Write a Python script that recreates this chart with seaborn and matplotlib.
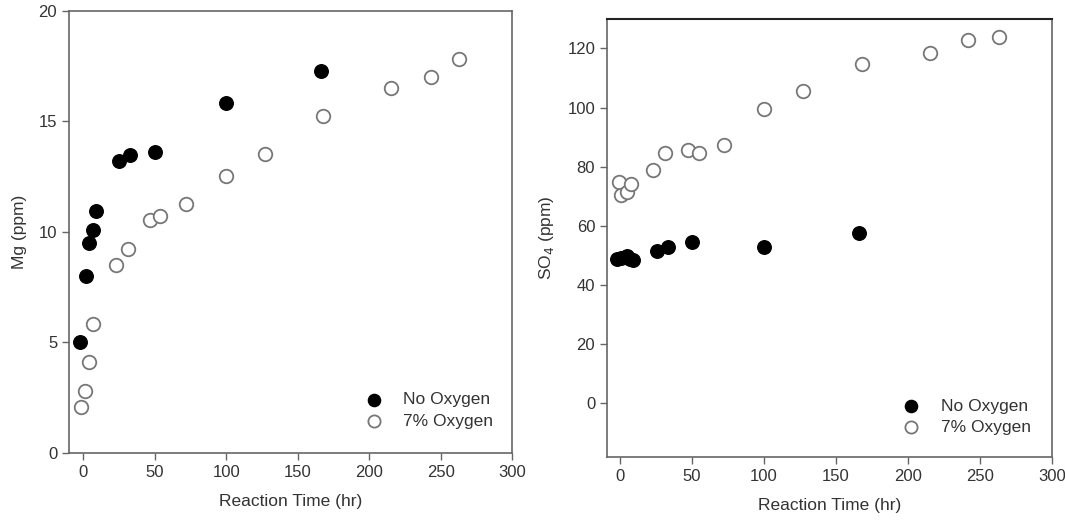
import matplotlib
matplotlib.use("Agg")
import matplotlib.pyplot as plt
import pandas as pd
import seaborn as sns

# Mg panel
mg_no_time = [-2, 2, 4, 7, 9, 25, 33, 50, 100, 166]
mg_no_val = [5.0, 8.0, 9.5, 10.1, 10.95, 13.2, 13.5, 13.6, 15.85, 17.3]
mg_ox_time = [-1.5, 1, 4, 7, 23, 31, 47, 54, 72, 100, 127, 168, 215, 243, 263]
mg_ox_val = [2.08, 2.82, 4.1, 5.82, 8.52, 9.22, 10.53, 10.73, 11.27, 12.55, 13.55, 15.24, 16.53, 17.03, 17.85]

# SO4 panel
so4_no_time = [-2, 1, 5, 7, 9, 26, 33, 50, 100, 166]
so4_no_val = [48.8, 49.0, 49.9, 48.7, 48.5, 51.3, 52.8, 54.5, 52.8, 57.6]
so4_ox_time = [-1, 1, 4.6, 7.4, 23, 31, 47, 55, 72, 100, 127, 168, 215, 242, 263]
so4_ox_val = [74.7, 70.3, 71.4, 74.2, 78.8, 84.7, 85.6, 84.6, 87.2, 99.4, 105.6, 114.7, 118.6, 122.9, 123.9]

series_names = ["No Oxygen", "7% Oxygen"]
x_ticks = [0, 50, 100, 150, 200, 250, 300]

sns.set_style("white")
plt.rcParams["font.family"] = ["Liberation Sans", "DejaVu Sans"]
text_col = "#333333"
spine_col = "#666666"

fig = plt.figure(figsize=(10.65, 5.31), dpi=100)
ax1 = fig.add_axes([0.0648, 0.1469, 0.416, 0.8324])
ax2 = fig.add_axes([0.570, 0.1394, 0.4178, 0.8249])


def draw_panel(ax, no_t, no_v, ox_t, ox_v):
    df_no = pd.DataFrame({"time": no_t, "val": no_v})
    df_ox = pd.DataFrame({"time": ox_t, "val": ox_v})
    sns.scatterplot(data=df_no, x="time", y="val", ax=ax, s=95, color="black",
                    edgecolor="black", linewidth=1.0, label=series_names[0], zorder=3)
    sns.scatterplot(data=df_ox, x="time", y="val", ax=ax, s=95, facecolor="white",
                    edgecolor="#777777", linewidth=1.3, label=series_names[1], zorder=3)
    for sp in ax.spines.values():
        sp.set_color(spine_col)
        sp.set_linewidth(1.2)
    ax.tick_params(axis="both", direction="out", length=5, width=1, color=spine_col,
                   labelsize=12, labelcolor=text_col, left=True, bottom=True)
    ax.set_xticks(x_ticks)
    ax.set_xlabel("Reaction Time (hr)", fontsize=12.5, color=text_col, labelpad=10)


draw_panel(ax1, mg_no_time, mg_no_val, mg_ox_time, mg_ox_val)
ax1.set_xlim(-10, 300)
ax1.set_ylim(0, 20)
ax1.set_yticks([0, 5, 10, 15, 20])
ax1.set_ylabel("Mg (ppm)", fontsize=12.5, color=text_col, labelpad=8)
ax1.legend(loc="lower left", bbox_to_anchor=(0.613, 0.02), frameon=False, fontsize=12.5,
           handletextpad=0.7, labelspacing=0.35, labelcolor=text_col, markerscale=0.9)

draw_panel(ax2, so4_no_time, so4_no_val, so4_ox_time, so4_ox_val)
ax2.set_xlim(-9, 300)
ax2.set_ylim(-18.3, 130)
ax2.set_yticks([0, 20, 40, 60, 80, 100, 120])
ax2.set_ylabel("SO$_4$ (ppm)", fontsize=12.5, color=text_col, labelpad=8)
ax2.spines["top"].set_color("#222222")
ax2.spines["top"].set_linewidth(1.5)
ax2.legend(loc="lower left", bbox_to_anchor=(0.61, 0.015), frameon=False, fontsize=12.5,
           handletextpad=0.7, labelspacing=0.35, labelcolor=text_col, markerscale=0.9)

fig.savefig("out.png", dpi=100)
